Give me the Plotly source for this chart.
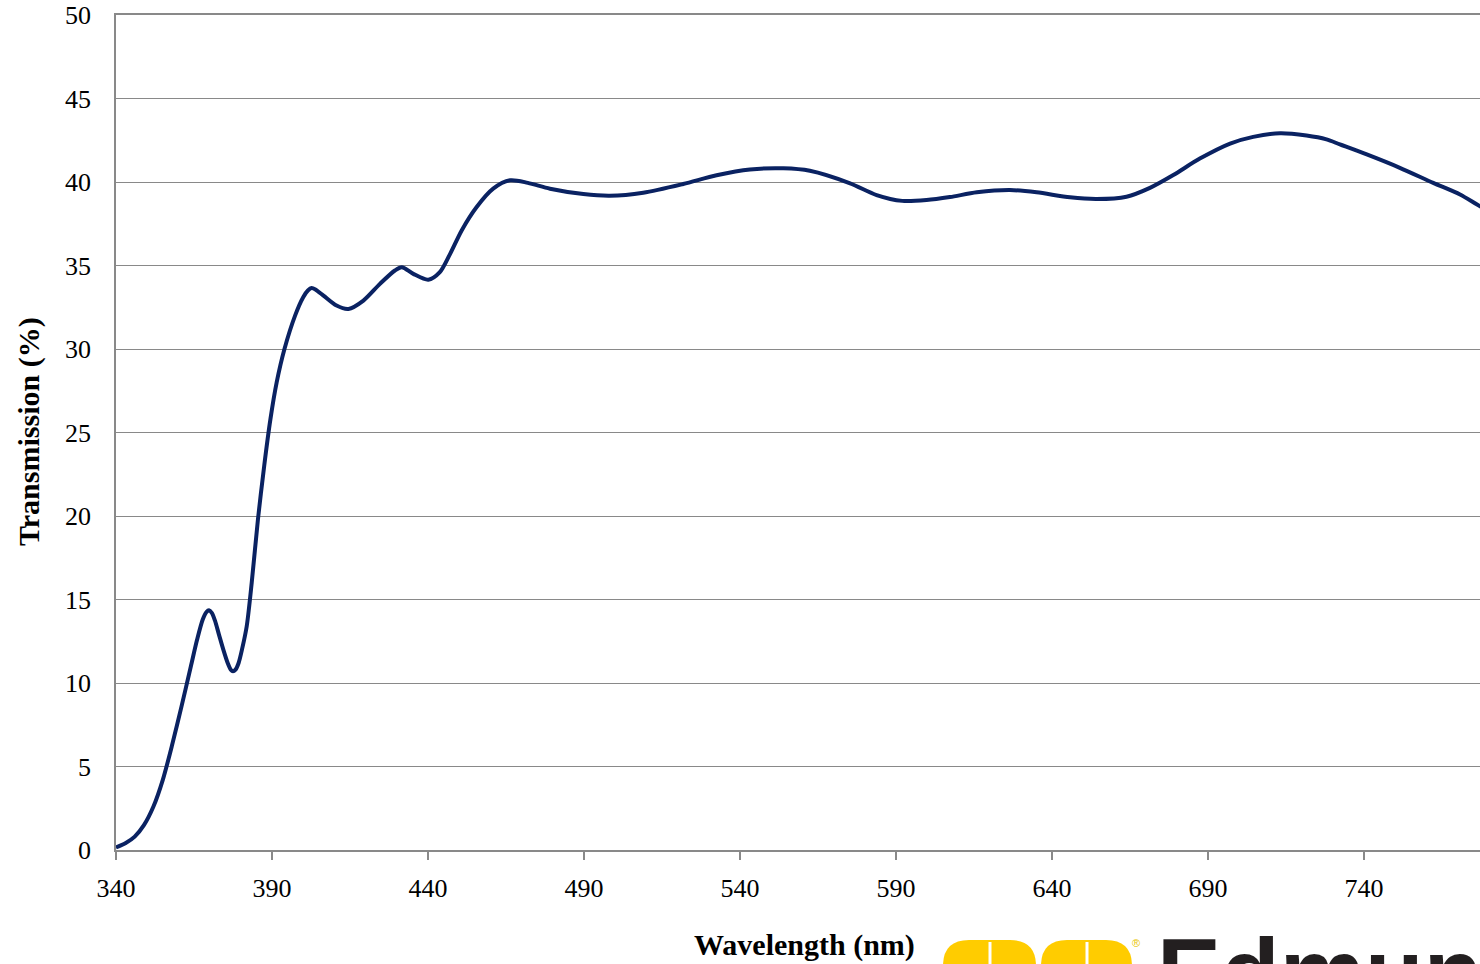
import plotly.graph_objects as go

# ---- data ----
wavelength_nm = [340, 343, 346, 349, 352, 355, 358, 361, 364, 366, 367.8, 369, 369.8, 370.7,
                 371.7, 373, 374.4, 375.8, 376.8, 377.5, 378.3, 379.3, 380.5, 381.9, 383.5,
                 385.5, 387.5, 389.5, 391.5, 394, 397.4, 400, 401.5, 402.7, 404, 406.5,
                 410.7, 414.5, 419.3, 424.6, 429.4, 431.6, 435.3, 440.1, 443.8, 447.1,
                 450.8, 455.6, 460.9, 466.3, 472, 479.1, 489.8, 498.3, 509, 521.8, 532.5,
                 543.2, 553.9, 562.4, 575.3, 583.8, 592, 599.8, 607.3, 615.9, 626.5, 635.1,
                 645.8, 654.3, 663.9, 671.4, 678.9, 687.4, 697.1, 704.5, 713.1, 721.6, 728,
                 732.3, 740.9, 751.5, 762.2, 770.8, 777.2, 780]
transmission_pct = [0.15, 0.4, 0.8, 1.5, 2.6, 4.2, 6.3, 8.6, 11.0, 12.6, 13.8, 14.25, 14.35, 14.2,
                    13.75, 12.9, 12.0, 11.2, 10.8, 10.7, 10.8, 11.2, 12.1, 13.4, 16.0,
                    19.8, 23.0, 25.8, 28.0, 30.0, 32.0, 33.1, 33.5, 33.65, 33.55, 33.2,
                    32.6, 32.4, 32.9, 33.9, 34.7, 34.9, 34.5, 34.15, 34.6, 35.7,
                    37.1, 38.5, 39.6, 40.1, 39.95, 39.6, 39.28, 39.18, 39.36, 39.88, 40.4,
                    40.75, 40.82, 40.67, 39.92, 39.22, 38.87, 38.92, 39.1, 39.38, 39.52, 39.38,
                    39.08, 38.98, 39.12, 39.65, 40.42, 41.4, 42.3, 42.7, 42.92, 42.78, 42.55,
                    42.25, 41.65, 40.85, 39.95, 39.25, 38.55, 38.3]
x_tick_vals = [340, 390, 440, 490, 540, 590, 640, 690, 740]
y_tick_vals = [0, 5, 10, 15, 20, 25, 30, 35, 40, 45, 50]
x_title = "Wavelength (nm)"
y_title = "Transmission (%)"

W, H = 1480, 964
L, R, T, B = 116, 0, 15, 114
PW, PH = W - L - R, H - T - B

def px(xpix):
    return (xpix - L) / PW

def py(ypix):
    return (H - B - ypix) / PH

grid = "#898989"
serif = "Liberation Serif"

fig = go.Figure()
fig.add_trace(go.Scatter(
    x=wavelength_nm, y=transmission_pct, mode="lines",
    line=dict(color="#0A2262", width=4, shape="spline", smoothing=0.8),
    hoverinfo="x+y", showlegend=False,
))

fig.update_layout(
    width=W, height=H,
    margin=dict(l=L, r=R, t=T, b=B, pad=0),
    paper_bgcolor="white", plot_bgcolor="white",
    font=dict(family=serif, size=26, color="black"),
    xaxis=dict(
        range=[340, 777.2], tickvals=x_tick_vals, ticktext=[str(v) for v in x_tick_vals],
        showgrid=False, zeroline=False, showline=True, linecolor=grid, linewidth=1.5,
        mirror=True, ticks="outside", ticklen=8, tickwidth=1.5, tickcolor=grid,
        ticklabelstandoff=6, tickfont=dict(family=serif, size=26, color="black"),
    ),
    yaxis=dict(
        range=[0, 50], tickvals=y_tick_vals, ticktext=[str(v) for v in y_tick_vals],
        showgrid=True, gridcolor=grid, gridwidth=1.4, zeroline=False,
        showline=True, linecolor=grid, linewidth=1.5, ticks="",
        ticklabelstandoff=18, tickfont=dict(family=serif, size=26, color="black"),
    ),
    annotations=[
        dict(text=f"<b>{x_title}</b>", x=px(804), y=py(945), xref="paper", yref="paper",
             showarrow=False, xanchor="center", yanchor="middle",
             font=dict(family=serif, size=30, color="black")),
        dict(text=f"<b>{y_title}</b>", x=px(29), y=py(432), xref="paper", yref="paper",
             showarrow=False, xanchor="center", yanchor="middle", textangle=-90,
             font=dict(family=serif, size=30, color="black")),
        dict(text="<b>Edmun</b>", x=px(1155), y=py(917), xref="paper", yref="paper",
             showarrow=False, xanchor="left", yanchor="top",
             font=dict(family="Liberation Sans", size=96, color="#231F20")),
        dict(text="®", x=px(1136), y=py(943), xref="paper", yref="paper",
             showarrow=False, xanchor="center", yanchor="middle",
             font=dict(family="Liberation Sans", size=11, color="#E8C400")),
    ],
)

# Edmund Optics logo fragment (decoration, bottom right)
yellow = "#FFCC00"
def blob(x0, x1, ytop, ybot, r):
    X0, X1 = px(x0), px(x1)
    Yt, Yb = py(ytop), py(ybot)
    rx = r / PW
    ry = r / PH
    return (f"M {X0},{Yb} L {X0},{Yt - ry} Q {X0},{Yt} {X0 + rx},{Yt} "
            f"L {X1 - rx},{Yt} Q {X1},{Yt} {X1},{Yt - ry} L {X1},{Yb} Z")

shapes = []
for (a, b) in [(943, 1036), (1041, 1132)]:
    shapes.append(dict(type="path", path=blob(a, b, 940, 980, 26), xref="paper", yref="paper",
                       fillcolor=yellow, line=dict(width=0), layer="above"))
for xl in [990, 1087]:
    shapes.append(dict(type="line", x0=px(xl), x1=px(xl), y0=py(942), y1=py(970),
                       xref="paper", yref="paper", line=dict(color="white", width=3), layer="above"))
fig.update_layout(shapes=shapes)

fig.write_html("out.html", config={"displayModeBar": False},
               post_script="document.body.style.margin='0';document.body.style.overflow='hidden';")
